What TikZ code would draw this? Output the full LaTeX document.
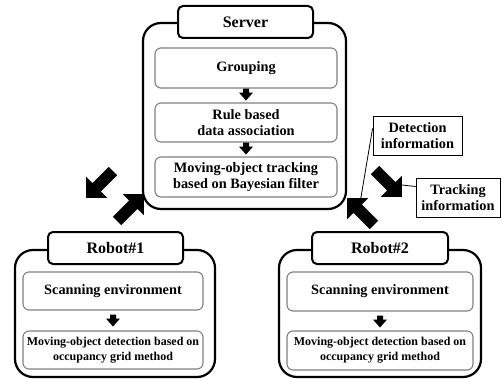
\documentclass[tikz,border=0pt]{standalone}
\usepackage{fontspec}
\setmainfont{Liberation Serif}
\tikzset{
  outerbox/.style={draw, line width=2.2pt, rounded corners=18pt, inner sep=0pt},
  tabbox/.style={draw, line width=2pt, rounded corners=5pt, fill=white, inner sep=0pt,
    font=\bfseries\fontsize{16}{18}\selectfont},
  innerbox/.style={draw=black!50, line width=1.1pt, rounded corners=6pt, align=center, inner sep=0pt,
    font=\bfseries\fontsize{14.3}{16}\selectfont},
  smallinner/.style={innerbox, font=\bfseries\fontsize{12}{15}\selectfont},
  infobox/.style={draw, line width=0.9pt, align=center, inner sep=0pt,
    font=\bfseries\fontsize{14.3}{16}\selectfont},
  leader/.style={line width=0.8pt},
  bigarrow/.pic={\fill (0,-6) -- (23,-6) -- (23,-15) -- (38,0) -- (23,15) -- (23,6) -- (0,6) -- cycle;},
  smallarrow/.pic={\fill (0,-3) -- (4,-3) -- (4,-7) -- (12,0) -- (4,7) -- (4,3) -- (0,3) -- cycle;}
}
\begin{document}
\begin{tikzpicture}[x=1pt,y=-1pt]
\useasboundingbox (0,0) rectangle (502,379);
% Server
\node[outerbox, minimum width=203, minimum height=186] (srv) at (244.5,116) {};
\node[tabbox, minimum width=135, minimum height=32] (srvtab) at (245.5,22) {Server};
\node[innerbox, minimum width=182, minimum height=40] (grp) at (246,68) {Grouping};
\node[innerbox, minimum width=182, minimum height=39] (rule) at (246,122.5) {Rule based\\data association};
\node[innerbox, minimum width=182, minimum height=40] (mot) at (246,177) {Moving-object tracking\\based on Bayesian filter};
\pic[rotate=-90] at (grp.south) {smallarrow};
\pic[rotate=-90] at (rule.south) {smallarrow};
% Robot 1
\node[outerbox, minimum width=200, minimum height=127] (r1) at (115,313.5) {};
\node[tabbox, minimum width=135, minimum height=32] (r1tab) at (115.5,248) {Robot\#1};
\node[innerbox, minimum width=180, minimum height=38] (r1a) at (113,291) {Scanning environment};
\node[smallinner, minimum width=180, minimum height=38] (r1b) at (113,350) {Moving-object detection based on\\occupancy grid method};
\pic[rotate=-90] at ([yshift=-4pt]r1a.south) {smallarrow};
% Robot 2
\node[outerbox, minimum width=202, minimum height=127] (r2) at (380,313.5) {};
\node[tabbox, minimum width=136, minimum height=32] (r2tab) at (380,248) {Robot\#2};
\node[innerbox, minimum width=186, minimum height=39] (r2a) at (380,291.5) {Scanning environment};
\node[smallinner, minimum width=186, minimum height=39] (r2b) at (380,350.5) {Moving-object detection based on\\occupancy grid method};
\pic[rotate=-90] at ([yshift=-4pt]r2a.south) {smallarrow};
% info boxes
\node[infobox, minimum width=89, minimum height=39] (det) at (417.5,135.5) {Detection\\information};
\node[infobox, minimum width=84, minimum height=39] (trk) at (458,197.5) {Tracking\\information};
% big arrows
\coordinate (a1) at (112.9,171.1);
\coordinate (a2) at (117.1,220.9);
\coordinate (a3) at (375.1,170.1);
\coordinate (a4) at (373.9,224.9);
\pic[rotate=225] at (a1) {bigarrow};
\pic[rotate=45] at (a2) {bigarrow};
\pic[rotate=-45] at (a3) {bigarrow};
\pic[rotate=135] at (a4) {bigarrow};
% leaders
\coordinate (dl) at (360,203);
\coordinate (tl) at (402,185);
\draw[leader] ([yshift=7pt]det.west) -- (dl);
\draw[leader] ([yshift=11pt]trk.west) -- (tl);
\end{tikzpicture}
\end{document}
